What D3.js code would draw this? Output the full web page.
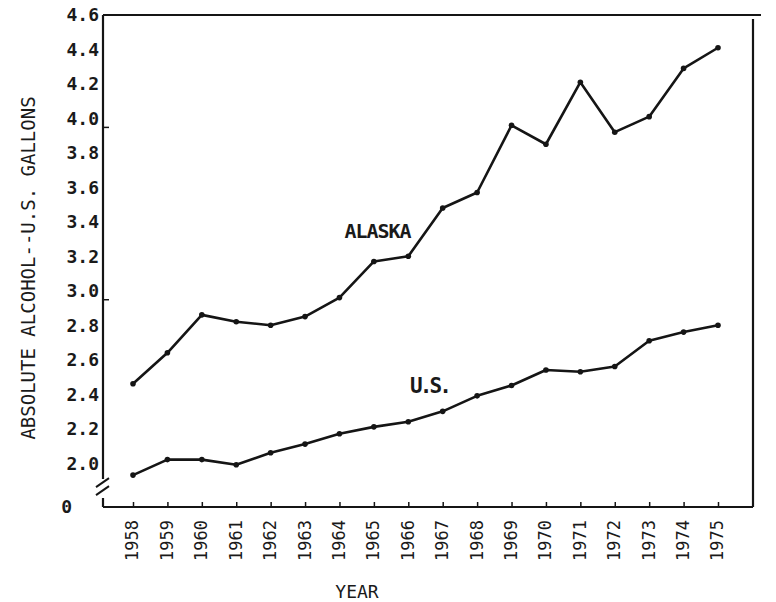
<!DOCTYPE html>
<html>
<head>
<meta charset="utf-8">
<script src="https://cdn.jsdelivr.net/npm/d3@7/dist/d3.min.js"></script>
<style>
	body { margin: 0; background: #fff; }
	svg { display: block; }
	text { font-family: "DejaVu Sans Mono", "Liberation Mono", monospace; fill: #1a1a1a; }
</style>
</head>
<body>
<svg id="chart" width="776" height="602"></svg>
<script>
	var years = [1958, 1959, 1960, 1961, 1962, 1963, 1964, 1965, 1966,
		1967, 1968, 1969, 1970, 1971, 1972, 1973, 1974, 1975];
	var alaska = [2.46, 2.64, 2.86, 2.82, 2.80, 2.85, 2.96, 3.17, 3.20,
		3.48, 3.57, 3.96, 3.85, 4.21, 3.92, 4.01, 4.29, 4.41];
	var us = [1.93, 2.02, 2.02, 1.99, 2.06, 2.11, 2.17, 2.21, 2.24,
		2.30, 2.39, 2.45, 2.54, 2.53, 2.56, 2.71, 2.76, 2.80];
	var yTicks = [2.0, 2.2, 2.4, 2.6, 2.8, 3.0, 3.2, 3.4, 3.6, 3.8, 4.0, 4.2, 4.4, 4.6];
	var yBreakLabel = "0";

	function splice(x, y) {
		return x.map(function(_, i) { return [x[i], y[i]]; });
	}

	var svg = d3.select("#chart");
	var pLeft = 103, pRight = 753, pTop = 15, pBottom = 507;
	var ink = "#151515";

	var xScale = d3.scaleLinear()
		.domain([1958, 1975])
		.range([133, 718]);
	// axis is broken below 2.0; bottom edge stands for zero
	var yScale = d3.scaleLinear()
		.domain([1.745, 4.6])
		.range([pBottom, pTop]);

	// frame: top and right edges
	svg.append("path")
		.attr("d", "M" + pLeft + "," + pTop + "H" + (pRight + 8) + "M" + pRight + "," + (pTop + 4) + "V" + pBottom)
		.attr("fill", "none")
		.attr("stroke", ink)
		.attr("stroke-width", 2.2);

	// left axis with break marks
	var yAxis = svg.append("g").attr("transform", "translate(" + pLeft + ",0)");
	yAxis.append("path")
		.attr("d", "M0," + pTop + "V" + (yScale(2.0) + 16) + "M0," + (pBottom - 9) + "V" + pBottom)
		.attr("fill", "none").attr("stroke", ink).attr("stroke-width", 2.2);
	[0, 8].forEach(function(off) {
		yAxis.append("path")
			.attr("d", "M-7," + (yScale(2.0) + 24 + off) + "L6," + (yScale(2.0) + 15 + off))
			.attr("stroke", ink).attr("stroke-width", 2);
	});
	yAxis.selectAll("text.tick")
		.data(yTicks)
		.enter().append("text")
		.attr("class", "tick")
		.attr("x", -4)
		.attr("y", function(d) { return yScale(d); })
		.attr("dy", "0.36em")
		.attr("text-anchor", "end")
		.attr("font-size", 18)
		.attr("font-weight", "bold")
		.text(function(d) { return d.toFixed(1); });
	yAxis.append("text")
		.attr("x", -31)
		.attr("y", pBottom)
		.attr("dy", "0.36em")
		.attr("text-anchor", "end")
		.attr("font-size", 18)
		.attr("font-weight", "bold")
		.text(yBreakLabel);
	[4.0, 3.0].forEach(function(v) {
		yAxis.append("path")
			.attr("d", "M0," + (yScale(v) + 9) + "h6")
			.attr("stroke", ink).attr("stroke-width", 1.5);
	});

	// bottom axis
	var xAxis = svg.append("g")
		.attr("transform", "translate(0," + pBottom + ")")
		.call(d3.axisBottom(xScale)
			.tickValues(years)
			.tickSize(-5)
			.tickFormat(d3.format("d")));
	xAxis.select(".domain").remove();
	xAxis.append("path")
		.attr("d", "M" + pLeft + ",0H" + pRight)
		.attr("stroke", ink).attr("stroke-width", 2.2);
	xAxis.selectAll(".tick line").attr("stroke", ink).attr("stroke-width", 1.5);
	xAxis.selectAll(".tick text")
		.attr("font-size", 17)
		.attr("font-family", "DejaVu Sans Mono, monospace")
		.attr("fill", "#1a1a1a")
		.attr("text-anchor", "end")
		.attr("transform", "rotate(-90)")
		.attr("x", -13)
		.attr("y", -1)
		.attr("dy", "0.35em");

	// series
	var line = d3.line()
		.x(function(d) { return xScale(d[0]); })
		.y(function(d) { return yScale(d[1]); });
	[alaska, us].forEach(function(values) {
		var pts = splice(years, values);
		svg.append("path")
			.attr("d", line(pts))
			.attr("fill", "none")
			.attr("stroke", ink)
			.attr("stroke-width", 2.6)
			.attr("stroke-linejoin", "round");
		svg.append("g").selectAll("circle")
			.data(pts)
			.enter().append("circle")
			.attr("cx", function(d) { return xScale(d[0]); })
			.attr("cy", function(d) { return yScale(d[1]); })
			.attr("r", 2.8)
			.attr("fill", ink);
	});

	// series labels
	svg.append("text")
		.attr("x", xScale(1965.12))
		.attr("y", yScale(3.306))
		.attr("text-anchor", "middle")
		.attr("font-family", "DejaVu Sans Condensed, sans-serif")
		.attr("font-weight", "bold")
		.attr("font-size", 20)
		.attr("textLength", 67)
		.text("ALASKA");
	svg.append("text")
		.attr("x", xScale(1966.66))
		.attr("y", yScale(2.406))
		.attr("text-anchor", "middle")
		.attr("font-family", "DejaVu Sans, sans-serif")
		.attr("font-weight", "bold")
		.attr("font-size", 21)
		.attr("textLength", 42)
		.text("U.S.");

	// axis titles
	svg.append("text")
		.attr("transform", "translate(35,268) rotate(-90)")
		.attr("text-anchor", "middle")
		.attr("font-size", 19)
		.text("ABSOLUTE ALCOHOL--U.S. GALLONS");
	svg.append("text")
		.attr("x", 357)
		.attr("y", 598)
		.attr("text-anchor", "middle")
		.attr("font-family", "DejaVu Sans Condensed, sans-serif")
		.attr("font-size", 18)
		.text("YEAR");
</script>
</body>
</html>
